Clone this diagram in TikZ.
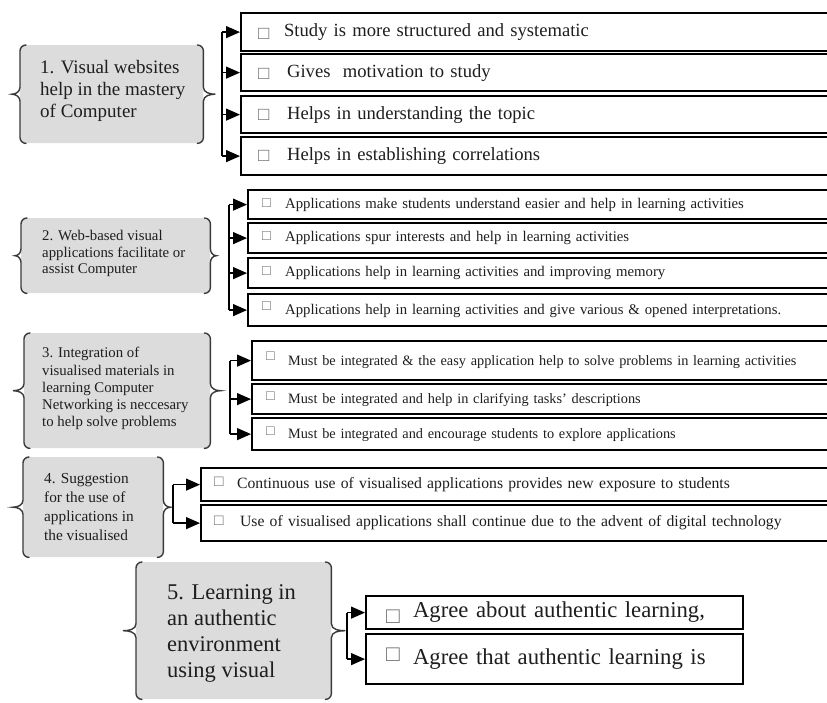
\documentclass[tikz,border=0pt]{standalone}
\usepackage{fontspec}
\setmainfont{Liberation Serif}
\usetikzlibrary{arrows.meta,calc}
\definecolor{boxgray}{HTML}{DCDCDC}
\definecolor{brgray}{HTML}{3A3A3A}
\definecolor{cbgray}{HTML}{6E6E6E}
\definecolor{txt}{HTML}{1E1E1E}
\newcommand\cbx[1]{{\color{cbgray}\raisebox{#1}{□}}}
% left/right braces around a gray node: #1 name, #2 left depth, #3 right depth
\newcommand\bracepair[3]{%
  \draw[brc] ([xshift=6pt]#1.north west) to[out=180,in=90] ([yshift=-6pt]#1.north west)
    -- ([yshift=7pt]#1.west) to[out=-90,in=0] ([xshift=-#2]#1.west)
    to[out=0,in=90] ([yshift=-7pt]#1.west)
    -- ([yshift=6pt]#1.south west) to[out=-90,in=180] ([xshift=6pt]#1.south west);
  \draw[brc] ([xshift=-6pt]#1.north east) to[out=0,in=90] ([yshift=-6pt]#1.north east)
    -- ([yshift=7pt]#1.east) to[out=-90,in=180] ([xshift=#3]#1.east)
    to[out=180,in=90] ([yshift=-7pt]#1.east)
    -- ([yshift=6pt]#1.south east) to[out=-90,in=0] ([xshift=-6pt]#1.south east);
}
\begin{document}
\begin{tikzpicture}[x=1pt,y=-1pt,
  grp/.style={fill=boxgray, rounded corners=7pt, inner sep=0pt, anchor=north west},
  gtext/.style={anchor=west, align=left, inner sep=0pt, text=txt},
  itm/.style={draw=black, line width=2.2pt, anchor=north west, inner sep=0pt,
              align=left, text=txt},
  brc/.style={draw=brgray, line width=1.4pt, line cap=round},
  bus/.style={line width=1.3pt},
  arr/.style={line width=1.3pt, -{Triangle[length=14pt,width=12pt]}}
]
\useasboundingbox (0,0) rectangle (827,702);
\clip (0,0) rectangle (827,702);
\fill[white] (0,0) rectangle (827,702);

% ---------------- Group 1 ----------------
\node[grp, minimum width=183pt, minimum height=98pt] (g1) at (20,45) {};
\bracepair{g1}{8pt}{12pt}
\node[gtext, font=\fontsize{19}{22}\selectfont] (g1t) at ([xshift=20pt,yshift=3pt]g1.west)
  {1. Visual websites\\help in the mastery\\of Computer};
\coordinate (bus1) at (222,0);
\node[itm, minimum width=600pt, minimum height=38pt, text width=600pt, font=\fontsize{18.6}{22}\selectfont] (a1) at (240,12)
  {\hspace*{17pt}\makebox[26pt][l]{\cbx{-3pt}}Study is more structured and systematic};
\node[itm, minimum width=600pt, minimum height=37pt, text width=600pt, font=\fontsize{18.6}{22}\selectfont] (a2) at (240,53)
  {\hspace*{17pt}\makebox[29pt][l]{\cbx{-2pt}}Gives\ \ motivation to study};
\node[itm, minimum width=600pt, minimum height=37pt, text width=600pt, font=\fontsize{18.6}{22}\selectfont] (a3) at (240,95)
  {\hspace*{17pt}\makebox[29pt][l]{\cbx{-1pt}}Helps in understanding the topic};
\node[itm, minimum width=600pt, minimum height=38pt, text width=600pt, font=\fontsize{18.6}{22}\selectfont] (a4) at (240,136)
  {\hspace*{17pt}\makebox[29pt][l]{\cbx{-1pt}}Helps in establishing correlations};
\draw[bus] (bus1 |- a1.west) -- (bus1 |- a4.west);
\foreach \n in {a1,a2,a3,a4} \draw[arr] (bus1 |- \n.west) -- (\n.west);

% ---------------- Group 2 ----------------
\node[grp, minimum width=189pt, minimum height=75pt] (g2) at (21,218) {};
\bracepair{g2}{6pt}{6pt}
\node[gtext, font=\fontsize{14.8}{16.5}\selectfont] (g2t) at ([xshift=21pt,yshift=2pt]g2.west)
  {2. Web-based visual\\applications facilitate or\\assist Computer};
\coordinate (bus2) at (229,0);
\node[itm, minimum width=600pt, minimum height=29pt, text width=600pt, font=\fontsize{14.75}{17}\selectfont] (b1) at (247,189)
  {\hspace*{14pt}\makebox[23pt][l]{\cbx{1pt}}Applications make students understand easier and help in learning activities};
\node[itm, minimum width=600pt, minimum height=30pt, text width=600pt, font=\fontsize{14.75}{17}\selectfont] (b2) at (247,222)
  {\hspace*{14pt}\makebox[23pt][l]{\cbx{1pt}}Applications spur interests and help in learning activities};
\node[itm, minimum width=600pt, minimum height=30pt, text width=600pt, font=\fontsize{14.75}{17}\selectfont] (b3) at (247,257)
  {\hspace*{14pt}\makebox[23pt][l]{\cbx{1pt}}Applications help in learning activities and improving memory};
\node[itm, minimum width=600pt, minimum height=32pt, text width=600pt, font=\fontsize{14.75}{17}\selectfont] (b4) at (247,293)
  {\hspace*{14pt}\makebox[23pt][l]{\cbx{4pt}}Applications help in learning activities and give various \& opened interpretations.};
\draw[bus] (bus2 |- b1.west) -- (bus2 |- b4.west);
\foreach \n in {b1,b2,b3,b4} \draw[arr] (bus2 |- \n.west) -- (\n.west);

% ---------------- Group 3 ----------------
\node[grp, minimum width=186pt, minimum height=115pt] (g3) at (24,333) {};
\bracepair{g3}{11pt}{10pt}
\node[gtext, font=\fontsize{14.8}{17.3}\selectfont] (g3t) at ([xshift=18pt,yshift=2pt]g3.west)
  {3. Integration of\\visualised materials in\\learning Computer\\Networking is neccesary\\to help solve problems};
\coordinate (bus3) at (230,0);
\node[itm, minimum width=600pt, minimum height=39pt, text width=600pt, font=\fontsize{14.3}{17}\selectfont] (c1) at (251,340)
  {\hspace*{14pt}\makebox[22pt][l]{\cbx{5pt}}Must be integrated \& the easy application help to solve problems in learning activities};
\node[itm, minimum width=600pt, minimum height=30pt, text width=600pt, font=\fontsize{14.3}{17}\selectfont] (c2) at (251,383)
  {\hspace*{14pt}\makebox[22pt][l]{\cbx{3pt}}Must be integrated and help in clarifying tasks’ descriptions};
\node[itm, minimum width=600pt, minimum height=32pt, text width=600pt, font=\fontsize{14.3}{17}\selectfont] (c3) at (251,417)
  {\hspace*{14pt}\makebox[22pt][l]{\cbx{3pt}}Must be integrated and encourage students to explore applications};
\draw[bus] (bus3 |- c1.west) -- (bus3 |- c3.west);
\foreach \n in {c1,c2,c3} \draw[arr] (bus3 |- \n.west) -- (\n.west);

% ---------------- Group 4 ----------------
\node[grp, minimum width=140pt, minimum height=100pt] (g4) at (23,457) {};
\bracepair{g4}{10pt}{7pt}
\node[gtext, font=\fontsize{15.3}{19}\selectfont] (g4t) at ([xshift=21pt,yshift=0pt]g4.west)
  {4. Suggestion\\for the use of\\applications in\\the visualised};
\coordinate (bus4) at (173,0);
\node[itm, minimum width=640pt, minimum height=33pt, text width=640pt, font=\fontsize{15.7}{18}\selectfont] (d1) at (200,467)
  {\hspace*{13pt}\makebox[23pt][l]{\cbx{2pt}}Continuous use of visualised applications provides new exposure to students};
\node[itm, minimum width=640pt, minimum height=36pt, text width=640pt, font=\fontsize{15.7}{18}\selectfont] (d2) at (200,504)
  {\hspace*{13pt}\makebox[26pt][l]{\cbx{1pt}}Use of visualised applications shall continue due to the advent of digital technology};
\draw[bus] (bus4 |- d1.west) -- (bus4 |- d2.west);
\foreach \n in {d1,d2} \draw[arr] (bus4 |- \n.west) -- (\n.west);

% ---------------- Group 5 ----------------
\node[grp, minimum width=195pt, minimum height=137pt] (g5) at (136,562) {};
\bracepair{g5}{13pt}{14pt}
\node[gtext, font=\fontsize{22.5}{26}\selectfont] (g5t) at ([xshift=31pt,yshift=-3pt]g5.west)
  {5. Learning in\\an authentic\\environment\\using visual};
\coordinate (bus5) at (347,0);
\node[itm, minimum width=377pt, minimum height=33pt, text width=377pt, font=\fontsize{22.7}{26}\selectfont] (e1) at (365,595)
  {\hspace*{20pt}\makebox[27pt][l]{\cbx{-6pt}}Agree about authentic learning,};
\node[itm, minimum width=377pt, minimum height=50pt, text width=377pt, font=\fontsize{22.7}{26}\selectfont] (e2) at (365,633)
  {\hspace*{20pt}\makebox[27pt][l]{\cbx{3pt}}Agree that authentic learning is};
\draw[bus] (bus5 |- e1.west) -- (bus5 |- e2.west);
\foreach \n in {e1,e2} \draw[arr] (bus5 |- \n.west) -- (\n.west);
\end{tikzpicture}
\end{document}
